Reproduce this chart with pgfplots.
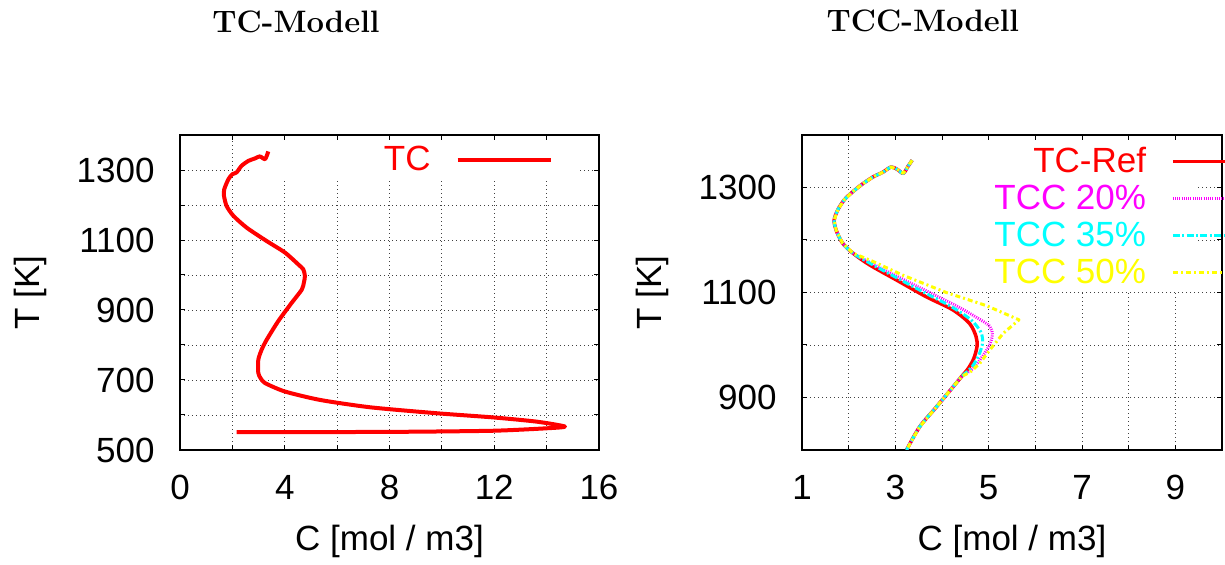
\documentclass[border=0pt]{standalone}
\usepackage{fontspec}
\usepackage{pgfplots}
\pgfplotsset{compat=1.18}
\newfontfamily\arial{Liberation Sans}
\newcommand\lbl{\arial\fontsize{17.5}{21}\selectfont}
\definecolor{gpred}{RGB}{255,0,0}
\definecolor{gpmag}{RGB}{255,0,255}
\definecolor{gpcyan}{RGB}{0,255,255}
\definecolor{gpyel}{RGB}{255,255,0}

\pgfplotstableread{
C T
3.37 1353
3.25 1331
3.05 1339
2.86 1333
2.61 1326
2.35 1312
2.16 1293
2.00 1288
1.85 1274
1.69 1245
1.68 1226
1.78 1197
2.04 1169
2.55 1135
3.31 1097
4.01 1064
4.52 1030
4.71 1016
4.77 997
4.73 978
4.65 958
4.26 920
3.75 868
3.31 815
3.12 787
2.99 758
2.99 720
3.08 705
3.25 691
4.01 667
5.35 643
7.26 622
9.80 605
11.97 593
13.62 581
14.70 567
14.00 562
11.97 555
8.53 552
4.71 551
2.16 551
}\tc

\pgfplotstableread{
C T
3.36 1352
3.27 1340
3.17 1327
3.05 1334
2.91 1339
2.73 1329
2.52 1320
2.27 1305
2.05 1289
1.91 1277
1.77 1258
1.69 1238
1.73 1219
1.87 1194
2.09 1175
2.44 1153
3.02 1124
3.66 1092
4.23 1067
4.59 1041
4.73 1016
4.75 997
4.68 974
4.56 955
4.42 940
4.30 927
3.88 882
3.52 844
3.24 800
}\tcref

\pgfplotstableread{
C T
3.36 1352
3.27 1340
3.17 1327
3.05 1334
2.91 1339
2.73 1329
2.52 1320
2.27 1305
2.05 1289
1.91 1277
1.77 1258
1.69 1238
1.73 1219
1.87 1194
2.09 1175
2.50 1155
3.10 1128
3.73 1100
4.30 1075
4.75 1052
5.02 1036
5.08 1020
5.02 1000
4.88 980
4.66 955
4.42 940
4.30 927
3.88 882
3.52 844
3.24 800
}\tcctwenty

\pgfplotstableread{
C T
3.36 1352
3.27 1340
3.17 1327
3.05 1334
2.91 1339
2.73 1329
2.52 1320
2.27 1305
2.05 1289
1.91 1277
1.77 1258
1.69 1238
1.73 1219
1.87 1194
2.09 1175
2.45 1156
3.05 1127
3.62 1100
4.20 1073
4.62 1048
4.83 1025
4.87 1005
4.80 983
4.64 958
4.42 940
4.30 927
3.88 882
3.52 844
3.24 800
}\tccthirtyfive

\pgfplotstableread{
C T
3.36 1352
3.27 1340
3.17 1327
3.05 1334
2.91 1339
2.73 1329
2.52 1320
2.27 1305
2.05 1289
1.91 1277
1.77 1258
1.69 1238
1.73 1219
1.87 1194
2.09 1175
2.50 1160
3.16 1133
4.09 1100
4.95 1075
5.65 1048
5.31 1022
5.02 990
4.81 965
4.60 948
4.42 940
4.30 927
3.88 882
3.52 844
3.24 800
}\tccfifty

\pgfplotsset{
  gp/.style={
    scale only axis, height=157.5pt, anchor=south west,
    axis line style={line width=0.75pt},
    tick align=inside, major tick length=2.5pt,
    tick style={black, line width=0.5pt},
    grid=major,
    major grid style={black!75, line width=0.4pt, dash pattern=on 0.6pt off 1.4pt},
    tick label style={font=\lbl},
    yticklabel style={inner sep=0pt, xshift=-12.5pt},
    xticklabel style={inner sep=0pt, yshift=-12.5pt},
    label style={font=\lbl, inner sep=0pt},
    xlabel style={at={(axis description cs:0.5,0)}, anchor=north, yshift=-37.5pt},
    ylabel style={at={(axis description cs:0,0.5)}, anchor=center, yshift=75pt},
    title style={font=\fontsize{15.5}{18}\selectfont\bfseries, anchor=base, yshift=45.5pt, inner sep=0pt},
    legend style={font=\lbl, draw=none, fill=none, inner sep=0pt,
      nodes={inner sep=0pt}, column sep=12.5pt, row sep=4.75pt},
    legend cell align=right,
    legend plot pos=right,
    legend image code/.code={\draw[##1] (0pt,0pt) -- (46.5pt,0pt);},
    every axis plot/.append style={line join=round},
  }
}

\begin{document}
\begin{tikzpicture}
\begin{axis}[gp,
  at={(90pt,57.5pt)}, width=209.5pt,
  xmin=0, xmax=16, ymin=500, ymax=1400,
  xtick={0,2,...,16}, xticklabels={0,,4,,8,,12,,16},
  ytick={500,600,...,1400}, yticklabels={500,,700,,900,,1100,,1300,},
  xlabel={C [mol / m3]}, ylabel={T [K]},
  title={TC-Modell}, title style={at={(0.277,1)}},
  legend style={at={(0.8902,0.9206)}, anchor=east},
]
  \fill[white] (rel axis cs:0.167,0.863) rectangle (rel axis cs:0.947,0.981);
  \addplot[gpred, line width=2pt, smooth, tension=0.4] table[x=C, y=T] {\tc};
  \addlegendentry{\textcolor{gpred}{TC}}
\end{axis}

\begin{axis}[gp,
  at={(401pt,57.5pt)}, width=210pt,
  xmin=1, xmax=10, ymin=800, ymax=1400,
  xtick={1,...,10}, xticklabels={1,,3,,5,,7,,9,},
  ytick={800,900,...,1400}, yticklabels={,900,,1100,,1300,},
  xlabel={C [mol / m3]}, ylabel={T [K]},
  title={TCC-Modell}, title style={at={(0.288,1)}},
  legend style={at={(1.1095,0.962)}, anchor=north east},
]
  \fill[white] (rel axis cs:0.12,0.50) rectangle (rel axis cs:0.94,0.981);
  \addplot[gpred, line width=1.75pt, smooth, tension=0.5] table[x=C, y=T] {\tcref};
  \addlegendentry{\textcolor{gpred}{TC-Ref}}
  \addplot[gpmag, line width=1.5pt, smooth, tension=0.5, dash pattern=on 0.5pt off 0.6pt] table[x=C, y=T] {\tcctwenty};
  \addlegendentry{\textcolor{gpmag}{TCC 20\%}}
  \addplot[gpcyan, line width=1.5pt, smooth, tension=0.5, dash pattern=on 3.5pt off 1.2pt on 1pt off 1.2pt] table[x=C, y=T] {\tccthirtyfive};
  \addlegendentry{\textcolor{gpcyan}{TCC 35\%}}
  \addplot[gpyel, line width=1.5pt, dash pattern=on 2.5pt off 1.5pt on 1pt off 1.5pt] table[x=C, y=T] {\tccfifty};
  \addlegendentry{\textcolor{gpyel}{TCC 50\%}}
\end{axis}

\pgfresetboundingbox
\path[use as bounding box] (0,0) rectangle (612.5pt,282.5pt);
\end{tikzpicture}
\end{document}
